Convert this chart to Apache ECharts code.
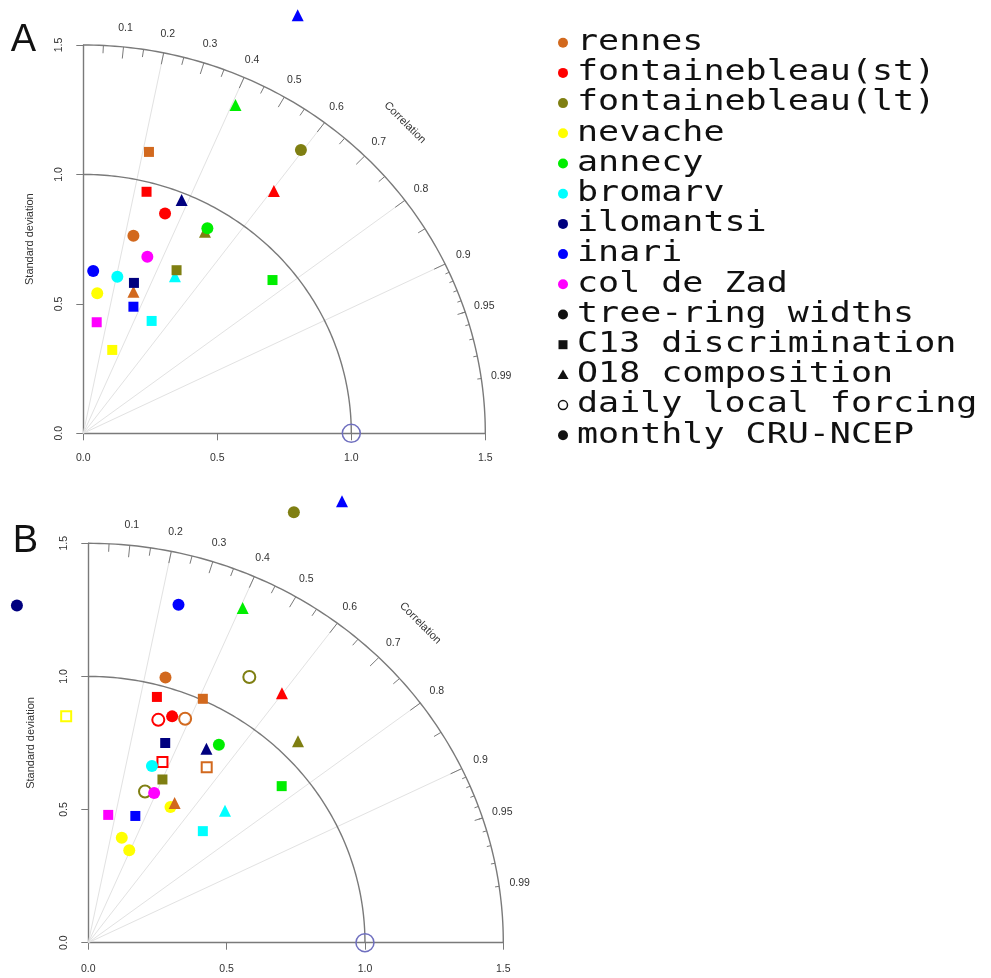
<!DOCTYPE html>
<html>
<head>
<meta charset="utf-8">
<script src="https://cdn.jsdelivr.net/npm/echarts@6/dist/echarts.min.js"></script>
<style>
  html, body { margin: 0; padding: 0; background: #fff; }
  #main { width: 991px; height: 978px; }
</style>
</head>
<body>
<div id="main"></div>
<script>
// axis ticks (standard deviation) and correlation labels
const sdTicks = [0, 0.5, 1.0, 1.5]
const corrLabels = [0.1, 0.2, 0.3, 0.4, 0.5, 0.6, 0.7, 0.8, 0.9, 0.95, 0.99]
const corrGridLines = [0.2, 0.4, 0.6, 0.8, 0.9]

const sites = ['rennes', 'fontainebleau(st)', 'fontainebleau(lt)', 'nevache', 'annecy',
  'bromarv', 'ilomantsi', 'inari', 'col de Zad']
const proxies = ['tree-ring widths', 'C13 discrimination', 'O18 composition']
const forcings = ['daily local forcing', 'monthly CRU-NCEP']

// points: [site, sd*cor, sd*sqrt(1-cor^2)]
// panel A, monthly CRU-NCEP
const aTreeRing = [
  ['fontainebleau(lt)', 0.812, 1.094], ['fontainebleau(st)', 0.305, 0.849],
  ['annecy', 0.463, 0.792], ['rennes', 0.187, 0.763], ['col de Zad', 0.239, 0.682],
  ['inari', 0.037, 0.627], ['bromarv', 0.127, 0.605], ['nevache', 0.052, 0.541]
]
const aC13 = [
  ['rennes', 0.245, 1.087], ['fontainebleau(st)', 0.236, 0.933], ['ilomantsi', 0.189, 0.581],
  ['fontainebleau(lt)', 0.348, 0.630], ['annecy', 0.706, 0.592], ['inari', 0.187, 0.489],
  ['col de Zad', 0.050, 0.429], ['bromarv', 0.255, 0.434], ['nevache', 0.108, 0.322]
]
const aO18 = [
  ['inari', 0.800, 1.615], ['annecy', 0.568, 1.268], ['ilomantsi', 0.367, 0.901],
  ['fontainebleau(st)', 0.711, 0.936], ['fontainebleau(lt)', 0.454, 0.779],
  ['rennes', 0.187, 0.547], ['bromarv', 0.342, 0.607]
]
// panel B, monthly CRU-NCEP
const bTreeRing = [
  ['fontainebleau(lt)', 0.743, 1.617], ['ilomantsi', -0.258, 1.266], ['inari', 0.326, 1.269],
  ['rennes', 0.279, 0.996], ['fontainebleau(st)', 0.303, 0.850], ['annecy', 0.472, 0.743],
  ['bromarv', 0.230, 0.664], ['col de Zad', 0.238, 0.562], ['nevache', 0.297, 0.510],
  ['nevache', 0.121, 0.394], ['nevache', 0.148, 0.347]
]
const bC13 = [
  ['fontainebleau(st)', 0.248, 0.923], ['rennes', 0.414, 0.916], ['ilomantsi', 0.278, 0.750],
  ['fontainebleau(lt)', 0.268, 0.613], ['annecy', 0.699, 0.588], ['col de Zad', 0.072, 0.480],
  ['inari', 0.170, 0.476], ['bromarv', 0.414, 0.419]
]
const bO18 = [
  ['inari', 0.917, 1.658], ['annecy', 0.558, 1.257], ['fontainebleau(st)', 0.700, 0.937],
  ['fontainebleau(lt)', 0.758, 0.757], ['ilomantsi', 0.427, 0.728], ['bromarv', 0.494, 0.496],
  ['rennes', 0.312, 0.525]
]
// panel B, daily local forcing
const bTreeRingDaily = [
  ['fontainebleau(lt)', 0.582, 0.998], ['fontainebleau(st)', 0.253, 0.837],
  ['rennes', 0.350, 0.841], ['fontainebleau(lt)', 0.205, 0.568]
]
const bC13Daily = [
  ['nevache', -0.080, 0.850], ['fontainebleau(st)', 0.268, 0.679], ['rennes', 0.428, 0.659]
]

const siteColor = {
  'rennes': '#d2691e',
  'fontainebleau(st)': '#ff0000',
  'fontainebleau(lt)': '#7f7f12',
  'nevache': '#ffff00',
  'annecy': '#00ee00',
  'bromarv': '#00ffff',
  'ilomantsi': '#00007f',
  'inari': '#0000ff',
  'col de Zad': '#ff00ff'
}
const proxySymbol = { 'tree-ring widths': 'circle', 'C13 discrimination': 'rect', 'O18 composition': 'triangle' }
const proxySize = { 'tree-ring widths': 12, 'C13 discrimination': 10, 'O18 composition': 12 }

const lineGrey = '#7a7a7a'
const labelFont = '"Liberation Sans", Arial, sans-serif'

const chart = echarts.init(document.getElementById('main'))

function frameItem(params, api) {
  const maxSd = sdTicks[sdTicks.length - 1]
  const at = (r, c) => api.coord([r * c, r * Math.sqrt(Math.max(0, 1 - c * c))])
  const kids = []
  const o = api.coord([0, 0])
  // light radial lines
  corrGridLines.forEach(c => {
    const p = at(maxSd, c)
    kids.push({ type: 'line', shape: { x1: o[0], y1: o[1], x2: p[0], y2: p[1] },
      style: { stroke: '#e2e2e2', lineWidth: 1 } })
  })
  // arcs: outer and reference sd
  const arc = r => {
    const pts = []
    for (let i = 0; i <= 120; i++) {
      const a = i / 120 * Math.PI / 2
      pts.push(api.coord([r * Math.cos(a), r * Math.sin(a)]))
    }
    kids.push({ type: 'polyline', shape: { points: pts },
      style: { stroke: lineGrey, lineWidth: 1.4, fill: null } })
  }
  arc(maxSd)
  arc(1.0)
  // correlation ticks
  const tick = (c, f) => {
    const p = at(maxSd, c), q = at(maxSd * f, c)
    kids.push({ type: 'line', shape: { x1: p[0], y1: p[1], x2: q[0], y2: q[1] },
      style: { stroke: lineGrey, lineWidth: 1 } })
  }
  for (let i = 1; i <= 9; i++) tick(i / 10, 0.97)
  for (let i = 0; i < 10; i++) tick(0.05 + i / 10, 0.98)
  for (let i = 1; i <= 9; i++) tick(0.9 + i / 100, 0.99)
  // correlation labels
  corrLabels.forEach(c => {
    const p = at(maxSd * 1.05, c)
    kids.push({ type: 'text', x: p[0], y: p[1],
      style: { text: String(c), fill: '#333', font: '10.5px ' + labelFont,
        align: 'center', verticalAlign: 'middle', textAlign: 'center', textVerticalAlign: 'middle' } })
  })
  const cp = api.coord([maxSd * 0.8, maxSd * 0.8])
  kids.push({ type: 'text', x: cp[0], y: cp[1], rotation: -Math.PI / 4,
    style: { text: 'Correlation', fill: '#333', font: '11px ' + labelFont,
      align: 'center', verticalAlign: 'middle', textAlign: 'center', textVerticalAlign: 'middle' } })
  // reference point
  const rp = api.coord([1, 0])
  kids.push({ type: 'circle', shape: { cx: rp[0], cy: rp[1], r: 9 },
    style: { stroke: '#6f6fbf', lineWidth: 1.5, fill: null } })
  return { type: 'group', children: kids }
}

function pointSeries(arr, gi, proxy, open) {
  return {
    type: 'scatter',
    xAxisIndex: gi,
    yAxisIndex: gi,
    symbol: proxySymbol[proxy],
    symbolSize: proxySize[proxy],
    clip: false,
    silent: true,
    z: 5,
    data: arr.map(d => ({
      value: [d[1], d[2]],
      itemStyle: open
        ? { color: 'rgba(255,255,255,0)', borderColor: siteColor[d[0]], borderWidth: 2, opacity: 1 }
        : { color: siteColor[d[0]], opacity: 1 }
    }))
  }
}

function xAxisFor(gi, margin) {
  return {
    gridIndex: gi, type: 'value',
    min: sdTicks[0], max: sdTicks[sdTicks.length - 1], interval: sdTicks[1] - sdTicks[0],
    axisLine: { show: true, lineStyle: { color: lineGrey, width: 1.4 } },
    axisTick: { show: true, length: 7, lineStyle: { color: lineGrey } },
    axisLabel: { formatter: v => v.toFixed(1), color: '#333', fontSize: 10.5, fontFamily: labelFont, margin: margin },
    splitLine: { show: false }
  }
}
function yAxisFor(gi, margin, gap) {
  return {
    gridIndex: gi, type: 'value',
    min: sdTicks[0], max: sdTicks[sdTicks.length - 1], interval: sdTicks[1] - sdTicks[0],
    name: 'Standard deviation', nameLocation: 'middle', nameGap: gap, nameRotate: 90,
    nameTextStyle: { color: '#333', fontSize: 11, fontFamily: labelFont },
    axisLine: { show: true, lineStyle: { color: lineGrey, width: 1.4 } },
    axisTick: { show: true, length: 7, lineStyle: { color: lineGrey } },
    axisLabel: { formatter: v => v.toFixed(1), rotate: 90, color: '#333', fontSize: 10.5, fontFamily: labelFont, margin: margin },
    splitLine: { show: false }
  }
}

// legend drawn as graphic elements
const legendRows = sites.map(s => ({ label: s, kind: 'circle', color: siteColor[s] }))
  .concat([
    { label: proxies[0], kind: 'circle', color: '#111' },
    { label: proxies[1], kind: 'rect', color: '#111' },
    { label: proxies[2], kind: 'triangle', color: '#111' },
    { label: forcings[0], kind: 'open', color: '#111' },
    { label: forcings[1], kind: 'circle', color: '#111' }
  ])
const legendGraphics = []
legendRows.forEach((row, i) => {
  const y = 42.7 + i * 30.2
  const x = 563
  if (row.kind === 'circle') {
    legendGraphics.push({ type: 'circle', shape: { cx: x, cy: y, r: 5 }, style: { fill: row.color } })
  } else if (row.kind === 'open') {
    legendGraphics.push({ type: 'circle', shape: { cx: x, cy: y, r: 4.5 }, style: { fill: null, stroke: row.color, lineWidth: 1.5 } })
  } else if (row.kind === 'rect') {
    legendGraphics.push({ type: 'rect', shape: { x: x - 4.5, y: y - 4.5, width: 9, height: 9 }, style: { fill: row.color } })
  } else {
    legendGraphics.push({ type: 'polygon', shape: { points: [[x, y - 5.5], [x + 5.5, y + 4], [x - 5.5, y + 4]] }, style: { fill: row.color } })
  }
  legendGraphics.push({
    type: 'text', x: 577, y: y, scaleX: 1.25,
    style: { text: row.label, fill: '#111', font: '28px "DejaVu Sans Mono", monospace',
      align: 'left', verticalAlign: 'middle', textAlign: 'left', textVerticalAlign: 'middle' }
  })
})
legendGraphics.push({ type: 'text', x: 23.5, y: 41,
  style: { text: 'A', fill: '#111', font: '38px ' + labelFont, align: 'center', verticalAlign: 'middle', textAlign: 'center', textVerticalAlign: 'middle' } })
legendGraphics.push({ type: 'text', x: 25.5, y: 541.5,
  style: { text: 'B', fill: '#111', font: '38px ' + labelFont, align: 'center', verticalAlign: 'middle', textAlign: 'center', textVerticalAlign: 'middle' } })

chart.setOption({
  backgroundColor: '#fff',
  animation: false,
  grid: [
    { left: 83.3, top: 45, width: 402, height: 388.3 },
    { left: 88.3, top: 543.3, width: 415, height: 399.4 }
  ],
  xAxis: [xAxisFor(0, 19), xAxisFor(1, 21)],
  yAxis: [yAxisFor(0, 19, 48), yAxisFor(1, 19, 52)],
  graphic: legendGraphics,
  series: [
    { type: 'custom', xAxisIndex: 0, yAxisIndex: 0, data: [[0, 0]], renderItem: frameItem, silent: true, clip: false, z: 1 },
    { type: 'custom', xAxisIndex: 1, yAxisIndex: 1, data: [[0, 0]], renderItem: frameItem, silent: true, clip: false, z: 1 },
    pointSeries(aO18, 0, proxies[2], false),
    pointSeries(aC13, 0, proxies[1], false),
    pointSeries(aTreeRing, 0, proxies[0], false),
    pointSeries(bTreeRingDaily, 1, proxies[0], true),
    pointSeries(bC13Daily, 1, proxies[1], true),
    pointSeries(bTreeRing, 1, proxies[0], false),
    pointSeries(bC13, 1, proxies[1], false),
    pointSeries(bO18, 1, proxies[2], false)
  ]
})
</script>
</body>
</html>
